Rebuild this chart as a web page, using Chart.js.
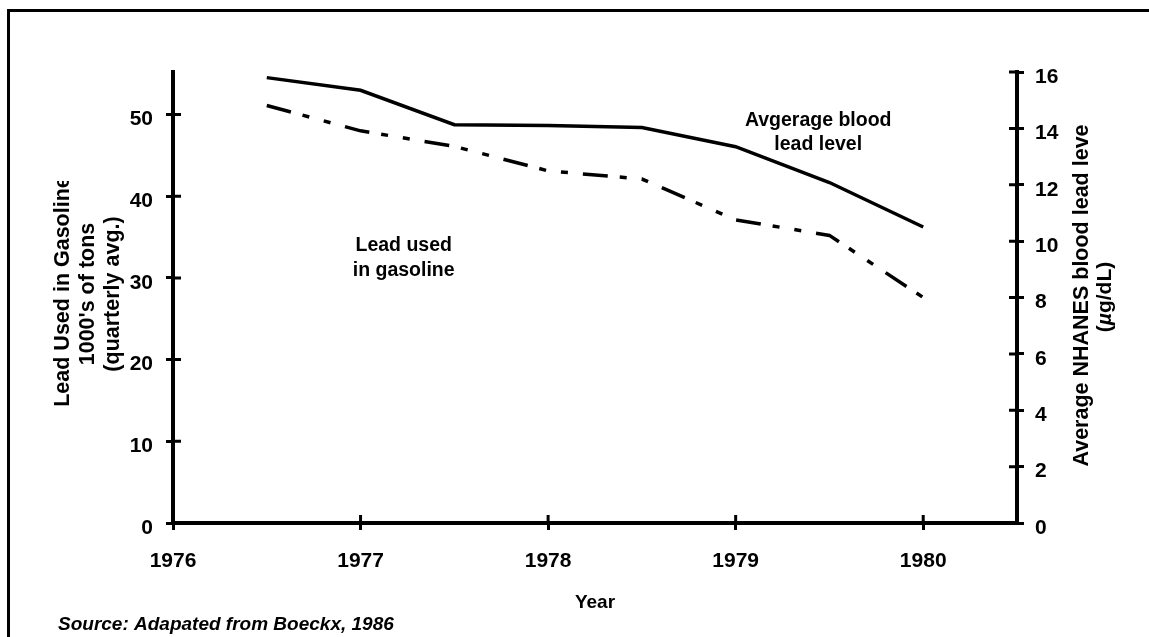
<!DOCTYPE html>
<html>
<head>
<meta charset="utf-8">
<script src="https://cdn.jsdelivr.net/npm/chart.js@4.4.0/dist/chart.umd.min.js"></script>
<style>
  html, body { margin: 0; padding: 0; background: #fff; }
  #contenedor { width: 1149px; height: 637px; }
</style>
</head>
<body>
<div id="contenedor"><canvas id="graficoPlomo" width="1149" height="637"></canvas></div>
<script>
// datos
const years = [1976.5, 1977, 1977.5, 1978, 1978.5, 1979, 1979.5, 1980];
const gasolineLead = [51.1, 48.0, 46.1, 43.1, 42.1, 37.1, 35.2, 27.6];
const bloodLead = [15.8, 15.35, 14.13, 14.1, 14.03, 13.35, 12.08, 10.5];
const yearTicks = [1976, 1977, 1978, 1979, 1980];
const leftTicks = [0, 10, 20, 30, 40, 50];
const rightTicks = [0, 2, 4, 6, 8, 10, 12, 14, 16];

const fuente = '"Liberation Sans", Arial, Helvetica, sans-serif';

const puntos = (xs, ys) => xs.map((x, i) => ({ x: x, y: ys[i] }));

// marco, marcas que cruzan el eje, titulos y etiquetas
const extras = {
    id: 'extras',
    afterDraw(chart) {
        const ctx = chart.ctx;
        const area = chart.chartArea;
        const sx = chart.scales.x, sy = chart.scales.y, sy2 = chart.scales.y2;
        ctx.save();
        ctx.strokeStyle = '#000';
        ctx.fillStyle = '#000';

        ctx.lineWidth = 3;
        ctx.strokeRect(8.5, 10.5, 1300, 800);

        // mitad interior de las marcas
        ctx.lineWidth = 3;
        ctx.beginPath();
        yearTicks.forEach(v => {
            const px = sx.getPixelForValue(v);
            ctx.moveTo(px, area.bottom);
            ctx.lineTo(px, area.bottom - 8);
        });
        leftTicks.forEach(v => {
            const py = sy.getPixelForValue(v);
            ctx.moveTo(area.left, py);
            ctx.lineTo(area.left + 8, py);
        });
        rightTicks.forEach(v => {
            const py = sy2.getPixelForValue(v);
            ctx.moveTo(area.right, py);
            ctx.lineTo(area.right - 8, py);
        });
        ctx.stroke();

        ctx.textAlign = 'center';
        ctx.textBaseline = 'middle';

        // titulo eje izquierdo (la primera linea queda recortada como en el original)
        ctx.font = 'bold 21.5px ' + fuente;
        const lineasIzq = ['Lead Used in Gasoline', "1000's of tons", '(quarterly avg.)'];
        const centrosIzq = [291.5, 294, 294];
        lineasIzq.forEach((t, i) => {
            ctx.save();
            if (i === 0) {
                ctx.beginPath();
                ctx.rect(0, 181, 200, 400);
                ctx.clip();
            }
            ctx.translate(area.left - 110 + i * 25, centrosIzq[i]);
            ctx.rotate(-Math.PI / 2);
            ctx.fillText(t, 0, 0);
            ctx.restore();
        });

        // titulo eje derecho (tambien recortado arriba)
        ctx.save();
        ctx.beginPath();
        ctx.rect(1040, 124, 100, 400);
        ctx.clip();
        ctx.translate(area.right + 65, 292.5);
        ctx.rotate(-Math.PI / 2);
        ctx.fillText('Average NHANES blood lead level', 0, 0);
        ctx.restore();

        ctx.save();
        ctx.translate(area.right + 88, 297);
        ctx.rotate(-Math.PI / 2);
        ctx.textAlign = 'left';
        const partes = [['(', 'bold '], ['\u00b5', 'italic bold '], ['g/dL)', 'bold ']];
        let total = 0;
        partes.forEach(p => { ctx.font = p[1] + '21px ' + fuente; total += ctx.measureText(p[0]).width; });
        let xx = -total / 2;
        partes.forEach(p => {
            ctx.font = p[1] + '21px ' + fuente;
            ctx.fillText(p[0], xx, 0);
            xx += ctx.measureText(p[0]).width;
        });
        ctx.restore();

        // eje x
        ctx.font = 'bold 19px ' + fuente;
        ctx.fillText('Year', (area.left + area.right) / 2, area.bottom + 80);

        // etiquetas de las series
        ctx.font = 'bold 19.5px ' + fuente;
        const ax = sx.getPixelForValue(1979.44);
        ctx.fillText('Avgerage blood', ax, sy2.getPixelForValue(14.26));
        ctx.fillText('lead level', ax, sy2.getPixelForValue(14.26) + 24);
        const gx = sx.getPixelForValue(1977.23);
        ctx.fillText('Lead used', gx, sy.getPixelForValue(33.9));
        ctx.fillText('in gasoline', gx, sy.getPixelForValue(33.9) + 25);

        // fuente
        ctx.textAlign = 'left';
        ctx.font = 'italic bold 19px ' + fuente;
        ctx.fillText('Source: Adapated from Boeckx, 1986', 58, 625);

        ctx.restore();
    }
};

const ctx = document.getElementById('graficoPlomo').getContext('2d');

window.graficoPlomo = new Chart(ctx, {
    type: 'line',
    data: {
        datasets: [{
            label: 'Lead used in gasoline',
            data: puntos(years, gasolineLead),
            yAxisID: 'y',
            borderColor: '#000',
            borderWidth: 3.5,
            borderDash: [25, 12, 7, 15, 7, 15],
            borderCapStyle: 'butt',
            pointRadius: 0,
            tension: 0,
            fill: false
        }, {
            label: 'Avgerage blood lead level',
            data: puntos(years, bloodLead),
            yAxisID: 'y2',
            borderColor: '#000',
            borderWidth: 3.5,
            borderJoinStyle: 'miter',
            pointRadius: 0,
            tension: 0,
            fill: false
        }]
    },
    options: {
        responsive: false,
        animation: false,
        layout: {
            padding: { top: 72, left: 0, right: 0, bottom: 0 }
        },
        plugins: {
            legend: { display: false },
            tooltip: { enabled: false }
        },
        scales: {
            x: {
                type: 'linear',
                min: 1976,
                max: 1980.5,
                afterFit: (s) => { s.height = 114; },
                border: { display: true, color: '#000', width: 4 },
                grid: { drawOnChartArea: false, drawTicks: true, tickLength: 7, lineWidth: 3, color: '#000' },
                ticks: {
                    stepSize: 1,
                    includeBounds: false,
                    padding: 19,
                    color: '#000',
                    font: { family: fuente, size: 21, weight: 'bold' },
                    callback: (v) => yearTicks.includes(v) ? String(v) : null
                }
            },
            y: {
                position: 'left',
                min: 0,
                max: 55.2,
                afterFit: (s) => { s.width = 173; },
                border: { display: true, color: '#000', width: 4 },
                grid: { drawOnChartArea: false, drawTicks: true, tickLength: 7, lineWidth: 3, color: '#000' },
                ticks: {
                    stepSize: 10,
                    includeBounds: false,
                    padding: 13,
                    labelOffset: 5,
                    color: '#000',
                    font: { family: fuente, size: 21, weight: 'bold' },
                    callback: (v) => leftTicks.includes(v) ? String(v) : null
                }
            },
            y2: {
                position: 'right',
                min: 0,
                max: 16,
                afterFit: (s) => { s.width = 132; },
                border: { display: true, color: '#000', width: 4 },
                grid: { drawOnChartArea: false, drawTicks: true, tickLength: 7, lineWidth: 3, color: '#000' },
                ticks: {
                    stepSize: 2,
                    padding: 11,
                    labelOffset: 5,
                    color: '#000',
                    font: { family: fuente, size: 21, weight: 'bold' },
                    callback: (v) => rightTicks.includes(v) ? String(v) : null
                }
            }
        }
    },
    plugins: [extras]
});
</script>
</body>
</html>
